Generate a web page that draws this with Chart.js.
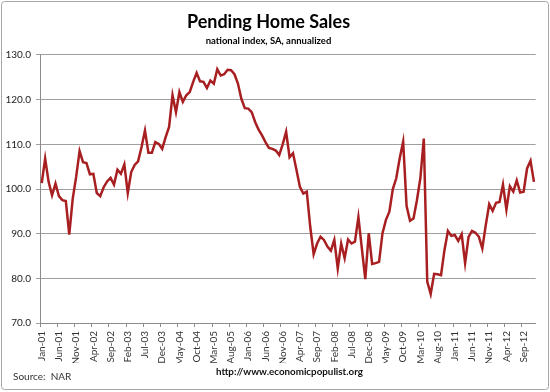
<!DOCTYPE html>
<html>
<head>
<meta charset="utf-8">
<title>Pending Home Sales</title>
<script src="https://cdn.jsdelivr.net/npm/chart.js@4.4.1/dist/chart.umd.min.js"></script>
<style>
    html, body { margin: 0; padding: 0; background: #fff; }
    #wrap { width: 550px; height: 392px; position: relative; }
</style>
</head>
<body>
<div id="wrap"><canvas id="homeSalesChart" width="550" height="392"></canvas></div>
<script>
// Monate und Jahre fuer die Kategorien (Jan-01 .. Dec-12)
const monthNames = ['Jan', 'Feb', 'Mar', 'Apr', 'May', 'Jun', 'Jul', 'Aug', 'Sep', 'Oct', 'Nov', 'Dec'];
const years = ['01', '02', '03', '04', '05', '06', '07', '08', '09', '10', '11', '12'];

// Pending Home Sales Index, monatlich
const values2001 = [101.3, 106.8, 101.6, 98.6, 101.2, 98.4, 97.5, 97.3, 89.8, 97.8, 102.7, 108.5];
const values2002 = [106.0, 105.8, 103.3, 103.4, 99.1, 98.4, 100.4, 101.7, 102.5, 101.0, 104.3, 103.4];
const values2003 = [105.5, 99.1, 103.8, 105.4, 106.2, 109.4, 113.1, 108.1, 108.1, 110.5, 110.1, 109.0];
const values2004 = [111.6, 113.9, 121.0, 117.2, 121.7, 119.5, 121.0, 121.7, 124.0, 126.0, 124.1, 124.0];
const values2005 = [122.6, 124.3, 123.6, 126.8, 125.4, 125.7, 126.7, 126.6, 125.7, 123.6, 120.2, 118.1];
const values2006 = [118.0, 117.2, 115.0, 113.3, 112.0, 110.5, 109.2, 109.0, 108.6, 107.6, 110.0, 112.8];
const values2007 = [107.1, 108.0, 104.3, 100.5, 99.0, 99.4, 91.6, 85.4, 87.8, 89.3, 88.6, 87.1];
const values2008 = [86.2, 88.6, 82.2, 87.8, 84.5, 88.7, 87.8, 88.2, 93.7, 86.7, 79.8, 90.1];
const values2009 = [83.2, 83.4, 83.7, 90.1, 93.1, 94.9, 100.0, 102.4, 106.9, 110.6, 96.2, 92.9];
const values2010 = [93.4, 97.5, 102.4, 111.3, 79.3, 76.5, 81.0, 80.9, 80.7, 86.3, 90.6, 89.5];
const values2011 = [89.7, 88.4, 89.9, 83.4, 89.3, 90.6, 90.2, 89.3, 86.7, 91.9, 96.6, 95.1];
const values2012 = [96.9, 97.1, 101.0, 95.4, 100.6, 99.4, 101.9, 99.2, 99.4, 104.6, 106.3, 101.6];

const yTicks = [70, 80, 90, 100, 110, 120, 130];

const labels = [];
years.forEach(y => monthNames.forEach(m => labels.push(`${m}-${y}`)));

const indexValues = [].concat(values2001, values2002, values2003, values2004, values2005, values2006,
    values2007, values2008, values2009, values2010, values2011, values2012);

const fontFamily = 'Lato, "Open Sans", sans-serif';

// Rahmen und Fusszeile auf die Leinwand zeichnen
const framePlugin = {
    id: 'frame',
    beforeDraw(chart) {
        const ctx = chart.ctx;
        ctx.save();
        ctx.fillStyle = '#fff';
        ctx.fillRect(0, 0, chart.width, chart.height);
        ctx.restore();
    },
    afterDraw(chart) {
        const ctx = chart.ctx;
        ctx.save();
        ctx.strokeStyle = '#a6a6a6';
        ctx.lineWidth = 1;
        ctx.beginPath();
        ctx.roundRect(1.5, 1.5, 547, 388, 3);
        ctx.stroke();

        ctx.fillStyle = '#333';
        ctx.textBaseline = 'middle';
        ctx.font = `10px ${fontFamily}`;
        ctx.fillText('Source:  NAR', 13, 377);
        ctx.font = `bold 10px ${fontFamily}`;
        ctx.fillStyle = '#111';
        ctx.fillText('http://www.economicpopulist.org', 216, 372, 147);
        ctx.restore();
    }
};

const ctx = document.getElementById('homeSalesChart').getContext('2d');
new Chart(ctx, {
    type: 'line',
    data: {
        labels: labels,
        datasets: [{
            label: 'Pending Home Sales',
            data: indexValues,
            borderColor: '#a81f22',
            borderWidth: 2.5,
            pointRadius: 0,
            tension: 0,
            fill: false
        }]
    },
    options: {
        responsive: false,
        animation: false,
        layout: {
            padding: { left: 0, right: 13, top: 0, bottom: 29 }
        },
        plugins: {
            legend: { display: false },
            tooltip: { enabled: false },
            title: {
                display: true,
                text: 'Pending Home Sales',
                color: '#000',
                font: { family: fontFamily, size: 18, weight: 'bold' },
                padding: { top: 11, bottom: 0 }
            },
            subtitle: {
                display: true,
                text: 'national index, SA, annualized',
                color: '#000',
                font: { family: fontFamily, size: 9.5, weight: 'bold' },
                padding: { top: 3, bottom: 8 }
            }
        },
        scales: {
            x: {
                type: 'category',
                offset: true,
                afterFit: (scale) => { scale.height = 40; },
                border: { display: true, color: '#8c8c8c', width: 1 },
                grid: {
                    drawOnChartArea: false,
                    drawTicks: true,
                    tickLength: 4,
                    offset: true,
                    color: (c) => (c.index % 5 === 0 ? '#8c8c8c' : 'rgba(0,0,0,0)')
                },
                ticks: {
                    autoSkip: false,
                    maxRotation: 90,
                    minRotation: 90,
                    padding: 4,
                    color: '#333',
                    font: { family: fontFamily, size: 10 },
                    callback: function(value, index) {
                        return index % 5 === 0 ? this.getLabelForValue(value) : '';
                    }
                }
            },
            y: {
                min: yTicks[0],
                max: yTicks[yTicks.length - 1],
                afterFit: (scale) => { scale.width = 40; },
                afterBuildTicks: (scale) => { scale.ticks = yTicks.map(v => ({ value: v })); },
                border: { display: true, color: '#8c8c8c', width: 1 },
                grid: {
                    color: '#a0a0a0',
                    lineWidth: 1,
                    tickLength: 4
                },
                ticks: {
                    padding: 5,
                    color: '#222',
                    font: { family: fontFamily, size: 10 },
                    callback: (v) => Number(v).toFixed(1)
                }
            }
        }
    },
    plugins: [framePlugin]
});
</script>
</body>
</html>
